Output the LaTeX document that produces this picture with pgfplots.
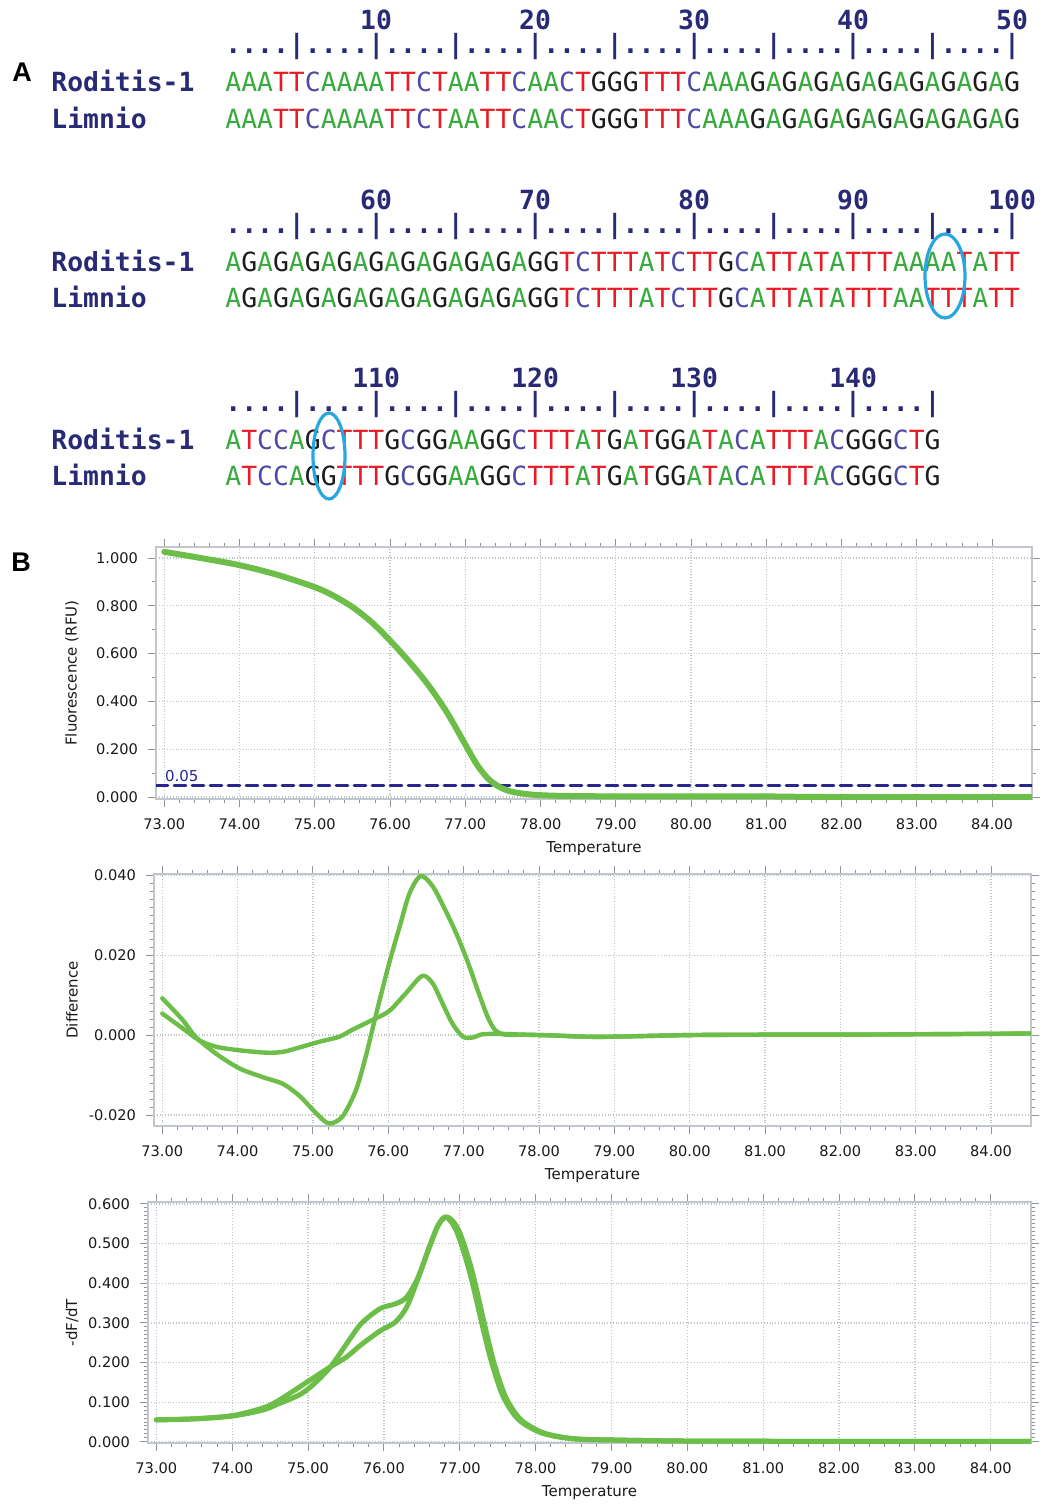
\documentclass[border=0pt]{standalone}
\usepackage{pgfplots}
\pgfplotsset{compat=1.18}
\usepackage{fontspec}
\setmainfont{DejaVu Sans}
\newfontfamily\seqfont{DejaVu Sans Mono}
\newfontfamily\panelfont{Liberation Sans}

\definecolor{cA}{RGB}{56,170,62}
\definecolor{cT}{RGB}{232,28,36}
\definecolor{cC}{RGB}{78,72,168}
\definecolor{cG}{RGB}{28,28,28}
\definecolor{navy}{RGB}{40,42,118}
\definecolor{curve}{RGB}{108,190,72}
\definecolor{ring}{RGB}{40,166,224}
\definecolor{axgray}{RGB}{192,198,204}
\definecolor{gridgray}{RGB}{190,196,202}
\definecolor{thr}{RGB}{40,40,140}

\newcommand\colletter[1]{\if#1A\textcolor{cA}{A}\else\if#1T\textcolor{cT}{T}\else\if#1C\textcolor{cC}{C}\else\textcolor{cG}{#1}\fi\fi\fi}
\def\colseq#1{\colseqi#1\relax}
\def\colseqi#1{\ifx#1\relax\else\colletter{#1}\expandafter\colseqi\fi}

\newcommand\monofont{\seqfont\fontsize{13.2pt}{14pt}\selectfont}

\pgfplotsset{
  meltaxis/.style={
    scale only axis,
    anchor=south west,
    axis line style={axgray, line width=0.8pt},
    grid=major,
    major grid style={gridgray, densely dotted, line width=0.6pt},
    tick style={axgray!75!black, line width=0.5pt},
    tick align=outside,
    major tick length=4pt,
    minor tick length=2.2pt,
    xtick={73,74,75,76,77,78,79,80,81,82,83,84},
    minor x tick num=4,
    xmin=72.89, xmax=84.53,
    scaled ticks=false,
    xticklabel shift=2.5pt,
    yticklabel shift=1.5pt,
    ticklabel style={font=\fontsize{7.3}{8}\selectfont, text=black!90},
    label style={font=\fontsize{7.5}{9}\selectfont, text=black!90},
    xlabel={Temperature},
    /pgf/number format/assume math mode=true,
    xticklabel={\pgfmathprintnumber[fixed,fixed zerofill,precision=2]{\tick}},
    yticklabel={\pgfmathprintnumber[fixed,fixed zerofill,precision=3]{\tick}},
    every axis plot/.append style={curve, line join=round, line cap=round, no marks},
  }
}

\begin{document}
\begin{tikzpicture}
\path[use as bounding box] (0,0) rectangle (520.5pt,-752pt);

\begin{scope}[x=0.5pt,y=-0.5pt]
% panel letters
\node[font=\panelfont\bfseries\fontsize{13.5pt}{15pt}\selectfont, anchor=center] at (22,72) {A};
\node[font=\panelfont\bfseries\fontsize{13.5pt}{15pt}\selectfont, anchor=center] at (21,562) {B};

% row 1
\foreach \n/\p in {10/376.1,20/535.1,30/694.1,40/853.1,50/1012.1}
  \node[anchor=base, inner sep=0pt, text=navy, font=\monofont\bfseries] at (\p,30) {\n};
\node[anchor=base west, inner sep=0pt, text=navy, font=\monofont\bfseries] at (225,54) {....|....|....|....|....|....|....|....|....|....|};
\node[anchor=base west, inner sep=0pt, text=navy, font=\monofont\bfseries] at (51,92) {Roditis-1};
\node[anchor=base west, inner sep=0pt, text=navy, font=\monofont\bfseries] at (51,128) {Limnio};
\node[anchor=base west, inner sep=0pt, font=\monofont] at (225,92) {\colseq{AAATTCAAAATTCTAATTCAACTGGGTTTCAAAGAGAGAGAGAGAGAGAG}};
\node[anchor=base west, inner sep=0pt, font=\monofont] at (225,128) {\colseq{AAATTCAAAATTCTAATTCAACTGGGTTTCAAAGAGAGAGAGAGAGAGAG}};

% row 2
\foreach \n/\p in {60/376.1,70/535.1,80/694.1,90/853.1,100/1012.1}
  \node[anchor=base, inner sep=0pt, text=navy, font=\monofont\bfseries] at (\p,209) {\n};
\node[anchor=base west, inner sep=0pt, text=navy, font=\monofont\bfseries] at (225,233) {....|....|....|....|....|....|....|....|....|....|};
\node[anchor=base west, inner sep=0pt, text=navy, font=\monofont\bfseries] at (51,271) {Roditis-1};
\node[anchor=base west, inner sep=0pt, text=navy, font=\monofont\bfseries] at (51,307) {Limnio};
\node[anchor=base west, inner sep=0pt, font=\monofont] at (225,271) {\colseq{AGAGAGAGAGAGAGAGAGAGGTCTTTATCTTGCATTATATTTAAAATATT}};
\node[anchor=base west, inner sep=0pt, font=\monofont] at (225,307) {\colseq{AGAGAGAGAGAGAGAGAGAGGTCTTTATCTTGCATTATATTTAATTTATT}};

% row 3
\foreach \n/\p in {110/376.1,120/535.1,130/694.1,140/853.1}
  \node[anchor=base, inner sep=0pt, text=navy, font=\monofont\bfseries] at (\p,387) {\n};
\node[anchor=base west, inner sep=0pt, text=navy, font=\monofont\bfseries] at (225,411) {....|....|....|....|....|....|....|....|....|};
\node[anchor=base west, inner sep=0pt, text=navy, font=\monofont\bfseries] at (51,449) {Roditis-1};
\node[anchor=base west, inner sep=0pt, text=navy, font=\monofont\bfseries] at (51,485) {Limnio};
\node[anchor=base west, inner sep=0pt, font=\monofont] at (225,449) {\colseq{ATCCAGCTTTGCGGAAGGCTTTATGATGGATACATTTACGGGCTG}};
\node[anchor=base west, inner sep=0pt, font=\monofont] at (225,485) {\colseq{ATCCAGGTTTGCGGAAGGCTTTATGATGGATACATTTACGGGCTG}};

% rings
\draw[ring, line width=1.6pt] (945,276) ellipse [x radius=10pt, y radius=21pt];
\draw[ring, line width=1.6pt] (329,456) ellipse [x radius=8pt, y radius=21.5pt];
\end{scope}

% ---------- plot 1 : melt curve ----------
\begin{axis}[meltaxis, at={(78pt,-399.5pt)}, width=438pt, height=126pt,
  ymin=-0.008, ymax=1.046, ytick={0,0.2,0.4,0.6,0.8,1}, minor y tick num=1,
  ylabel={Fluorescence (RFU)},
  ylabel style={at={(axis description cs:-0.096,0.5)}, anchor=center},
  xlabel style={at={(axis description cs:0.5,-0.198)}, anchor=center}]
\addplot[thr, line width=1.4pt, dash pattern=on 6pt off 3pt] coordinates {(72.89,0.05) (84.53,0.05)};
\node[anchor=south west, inner sep=0.6pt, text=thr, font=\fontsize{7.5}{8}\selectfont] at (axis cs:72.99,0.056) {0.05};
\addplot[line width=3pt, smooth] coordinates {
(73.00,1.026)(73.50,0.999)(74.00,0.970)(74.50,0.930)(75.00,0.878)(75.25,0.842)
(75.50,0.795)(75.75,0.733)(76.00,0.655)(76.25,0.568)(76.50,0.472)(76.75,0.357)
(77.00,0.220)(77.15,0.138)(77.30,0.078)(77.45,0.043)(77.60,0.024)(77.80,0.013)
(78.00,0.008)(78.30,0.005)(79.00,0.003)(80.00,0.003)(81.00,0.003)(81.20,0.002)
(82.00,0.000)(83.00,0.000)(84.53,0.000)};
\end{axis}

% ---------- plot 2 : difference ----------
\begin{axis}[meltaxis, at={(77pt,-563pt)}, width=438.5pt, height=126pt,
  ymin=-0.02275, ymax=0.0403, ytick={-0.02,0,0.02,0.04}, minor y tick num=9,
  ylabel={Difference},
  ylabel style={at={(axis description cs:-0.0935,0.5)}, anchor=center},
  xlabel style={at={(axis description cs:0.5,-0.198)}, anchor=center}]
\addplot[line width=2.2pt, smooth] coordinates {
(73.00,0.0092)(73.27,0.0038)(73.44,-0.0004)(73.71,-0.0046)(74.02,-0.0083)(74.33,-0.0105)
(74.60,-0.0122)(74.82,-0.0152)(75.04,-0.0195)(75.21,-0.0221)(75.39,-0.0204)(75.57,-0.0138)
(75.70,-0.0054)(75.84,0.0054)(76.01,0.0179)(76.15,0.0271)(76.28,0.0354)(76.43,0.0398)
(76.59,0.0372)(76.75,0.0315)(76.90,0.0255)(77.05,0.0185)(77.20,0.0105)(77.32,0.0045)
(77.42,0.0012)(77.55,0.0001)(77.80,0.0001)(78.20,-0.0001)(78.60,-0.0004)(79.00,-0.0004)
(80.00,0.0000)(81.00,0.0001)(82.00,0.0001)(83.00,0.0002)(84.00,0.0003)(84.53,0.0004)};
\addplot[line width=2.2pt, smooth] coordinates {
(73.00,0.0054)(73.27,0.0017)(73.49,-0.0013)(73.71,-0.0029)(74.02,-0.0038)(74.38,-0.0044)
(74.60,-0.0042)(74.82,-0.0031)(75.08,-0.0017)(75.35,-0.0004)(75.52,0.0013)(75.79,0.0038)
(76.01,0.0060)(76.23,0.0104)(76.45,0.0148)(76.59,0.0129)(76.72,0.0079)(76.85,0.0029)
(76.99,-0.0004)(77.12,-0.0006)(77.25,0.0002)(77.50,0.0003)(77.80,0.0001)(78.20,-0.0001)
(78.60,-0.0004)(79.00,-0.0004)(80.00,0.0000)(81.00,0.0001)(82.00,0.0001)(83.00,0.0002)(84.53,0.0004)};
\end{axis}

% ---------- plot 3 : -dF/dT ----------
\begin{axis}[meltaxis, at={(74pt,-721.5pt)}, width=441.5pt, height=120.5pt,
  ymin=-0.003, ymax=0.605, ytick={0,0.1,0.2,0.3,0.4,0.5,0.6}, minor y tick num=9,
  ylabel={-dF/dT},
  ylabel style={at={(axis description cs:-0.086,0.5)}, anchor=center},
  xlabel style={at={(axis description cs:0.5,-0.207)}, anchor=center}]
\addplot[line width=2.5pt, smooth] coordinates {
(73.00,0.056)(73.50,0.058)(74.00,0.065)(74.40,0.080)(74.60,0.095)(74.90,0.120)
(75.10,0.150)(75.30,0.190)(75.50,0.245)(75.70,0.298)(75.95,0.336)(76.15,0.348)
(76.30,0.365)(76.45,0.415)(76.60,0.492)(76.72,0.548)(76.82,0.567)(76.96,0.530)
(77.13,0.428)(77.31,0.283)(77.42,0.200)(77.57,0.115)(77.77,0.057)(78.07,0.023)
(78.47,0.008)(79.06,0.0045)(80.00,0.002)(81.00,0.0015)(82.00,0.001)(84.53,0.001)};
\addplot[line width=2.5pt, smooth] coordinates {
(73.00,0.055)(73.50,0.058)(74.00,0.066)(74.40,0.085)(74.60,0.103)(74.90,0.140)
(75.10,0.165)(75.30,0.190)(75.50,0.213)(75.70,0.245)(75.95,0.280)(76.15,0.302)
(76.30,0.340)(76.45,0.412)(76.60,0.492)(76.72,0.548)(76.84,0.567)(76.99,0.532)
(77.16,0.432)(77.34,0.285)(77.45,0.200)(77.60,0.115)(77.80,0.057)(78.10,0.023)
(78.50,0.008)(79.06,0.0045)(80.00,0.002)(81.00,0.0015)(82.00,0.001)(84.53,0.001)};
\end{axis}
\end{tikzpicture}
\end{document}
